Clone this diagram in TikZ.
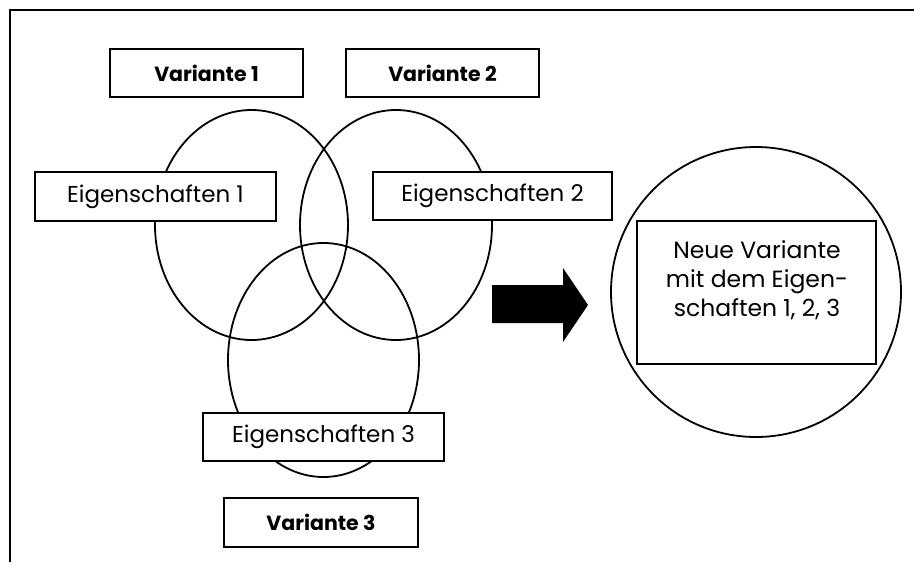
\documentclass[tikz,border=0pt]{standalone}
\usepackage{fontspec}
\setmainfont{Poppins}
\usetikzlibrary{shapes.geometric}
\begin{document}
\begin{tikzpicture}[x=1pt,y=-1pt,
  set/.style={ellipse,draw,line width=1.8pt,inner sep=0pt},
  labelbox/.style={draw,fill=white,line width=1.8pt,inner sep=0pt,
    font=\fontsize{23}{26}\selectfont},
  namebox/.style={labelbox,font=\fontsize{20.5}{24}\selectfont\bfseries},
  line/.style={inner sep=0pt,anchor=base,font=\fontsize{23.5}{26}\selectfont}]
\useasboundingbox (0,0) rectangle (914,562);
% frame
\draw[line width=2.5pt] (10,580) |- (930,10);
% three overlapping sets
\node[set,minimum width=193pt,minimum height=230pt] (s1) at (251.5,225) {};
\node[set,minimum width=192pt,minimum height=230pt] (s2) at (396,225) {};
\node[set,minimum width=191pt,minimum height=234pt] (s3) at (323.5,360) {};
% variant names
\node[namebox,minimum width=193pt,minimum height=48pt] (v1) at (206.5,73) {Variante 1};
\node[namebox,minimum width=193pt,minimum height=48pt] (v2) at (442.5,73) {Variante 2};
\node[namebox,minimum width=194pt,minimum height=49pt] (v3) at (321,522.5) {Variante 3};
% properties
\node[labelbox,minimum width=241pt,minimum height=49pt] (p1) at (155.5,196.5) {Eigenschaften 1};
\node[labelbox,minimum width=239pt,minimum height=48pt] (p2) at (492.5,196) {Eigenschaften 2};
\node[labelbox,minimum width=241pt,minimum height=48pt] (p3) at (323.5,437) {Eigenschaften 3};
% block arrow
\fill (492,285) -- (563,285) -- (563,268) -- (588,305) -- (563,342) -- (563,323) -- (492,323) -- cycle;
% result
\node[circle,draw,line width=1.8pt,minimum size=290pt,inner sep=0pt] (res) at (756,292) {};
\node[labelbox,minimum width=239pt,minimum height=143pt] (nv) at (756.5,292.5) {};
\node[line] (nv1) at (757,258) {Neue Variante};
\node[line] (nv2) at (757,287) {mit dem Eigen-};
\node[line] (nv3) at (757,316) {schaften 1, 2, 3};
\end{tikzpicture}
\end{document}
